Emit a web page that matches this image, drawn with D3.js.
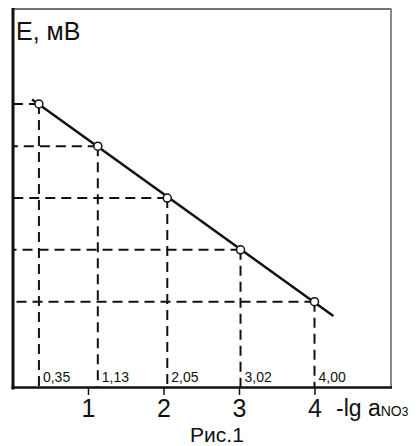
<!DOCTYPE html>
<html><head><meta charset="utf-8">
<script src="https://cdn.jsdelivr.net/npm/d3@7"></script>
<style>
html,body{margin:0;padding:0;background:#fff;}
svg{display:block;font-family:"Liberation Sans",Arial,sans-serif;}
</style></head>
<body>
<svg id="chart" width="418" height="446"></svg>
<script>
// Data
const pX = [0.35, 1.13, 2.05, 3.02, 4.00];          // -lg a(NO3-)
const pLabels = ["0,35", "1,13", "2,05", "3,02", "4,00"];
const E = [296, 252, 198, 144, 90];                // E, mV (no scale shown)
const xTicks = [1, 2, 3, 4];
const fitRange = [0.26, 4.25];

const svg = d3.select("#chart");
const x = d3.scaleLinear().domain([0, 5]).range([12.5, 390]);
const y = d3.scaleLinear().domain([0, 395]).range([388, 9]);

// frame
svg.append("line").attr("x1", 12).attr("x2", 391.5).attr("y1", 9).attr("y2", 9)
  .attr("stroke", "#444").attr("stroke-width", 1.5);
svg.append("line").attr("x1", 391).attr("x2", 391).attr("y1", 9).attr("y2", 388)
  .attr("stroke", "#888").attr("stroke-width", 2);

// guides
const pts = pX.map((v, i) => ({x: v, e: E[i], lab: pLabels[i]}));
const g = svg.append("g").attr("stroke", "#111").attr("stroke-width", 2).attr("stroke-dasharray", "10,6");
g.selectAll(".h").data(pts).join("line")
  .attr("x1", d => x(d.x)).attr("x2", x(0)).attr("y1", d => y(d.e)).attr("y2", d => y(d.e));
g.selectAll(".v").data(pts).join("line")
  .attr("x1", d => x(d.x)).attr("x2", d => x(d.x)).attr("y1", d => y(d.e)).attr("y2", y(0));

// point value labels
svg.selectAll(".pl").data(pts).join("text")
  .attr("x", d => x(d.x) + 4).attr("y", 382)
  .attr("font-size", 14).attr("fill", "#111").text(d => d.lab);

// least-squares line
const mx = d3.mean(pX), me = d3.mean(E);
const slope = d3.sum(pX, (v, i) => (v - mx) * (E[i] - me)) / d3.sum(pX, v => (v - mx) ** 2);
const f = v => me + slope * (v - mx);
svg.append("line")
  .attr("x1", x(fitRange[0])).attr("y1", y(f(fitRange[0])))
  .attr("x2", x(fitRange[1])).attr("y2", y(f(fitRange[1])))
  .attr("stroke", "#111").attr("stroke-width", 2.5);

// points
svg.selectAll(".pt").data(pts).join("circle")
  .attr("cx", d => x(d.x)).attr("cy", d => y(d.e)).attr("r", 4)
  .attr("fill", "#fff").attr("stroke", "#111").attr("stroke-width", 1.5);

// axes
svg.append("line").attr("x1", 13).attr("x2", 13).attr("y1", 8).attr("y2", 389.5)
  .attr("stroke", "#111").attr("stroke-width", 3);
svg.append("line").attr("x1", 11.5).attr("x2", 392).attr("y1", 387.5).attr("y2", 387.5)
  .attr("stroke", "#111").attr("stroke-width", 2.5);

const ax = svg.append("g").attr("transform", "translate(0,388)")
  .call(d3.axisBottom(x).tickValues(xTicks).tickSize(7).tickPadding(4).tickFormat(d3.format("d")));
ax.select(".domain").remove();
ax.selectAll("line").attr("stroke", "#111").attr("stroke-width", 1.5);
ax.selectAll("text").attr("font-size", 25).attr("fill", "#111")
  .attr("font-family", "Liberation Sans, Arial, sans-serif");

// titles
svg.append("text").attr("x", 16).attr("y", 40).attr("font-size", 25).attr("fill", "#111").text("E, мВ");
const xl = svg.append("text").attr("x", 336).attr("y", 416).attr("fill", "#111").attr("font-size", 23);
xl.append("tspan").text("-lg a");
xl.append("tspan").attr("font-size", 14).text("NO");
xl.append("tspan").attr("font-size", 12).text("3");
svg.append("text").attr("x", 217).attr("y", 442).attr("text-anchor", "middle")
  .attr("font-size", 21).attr("fill", "#111").text("Рис.1");
</script>
</body></html>
